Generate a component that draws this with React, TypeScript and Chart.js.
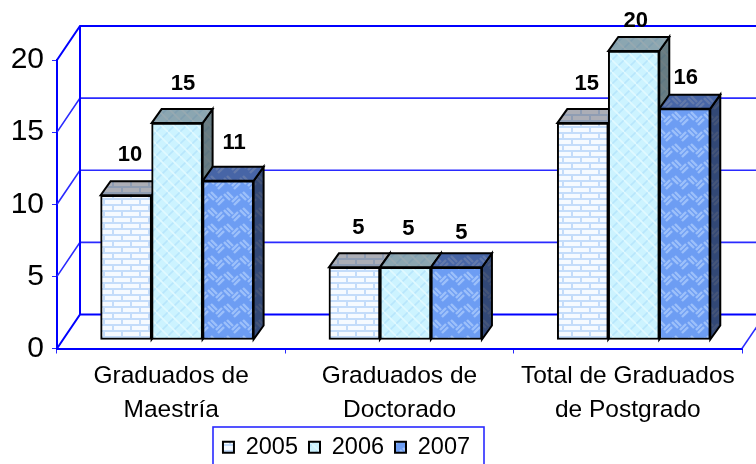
import React, { useEffect, useRef } from "react";
import { Chart, registerables } from "chart.js";

Chart.register(...registerables);

const categories = [
  ["Graduados de", "Maestría"],
  ["Graduados de", "Doctorado"],
  ["Total de Graduados", "de Postgrado"],
];
const seriesNames = ["2005", "2006", "2007"];
const values2005 = [10, 5, 15];
const values2006 = [15, 5, 20];
const values2007 = [11, 5, 16];
const yTicks = [0, 5, 10, 15, 20];

const BLUE = "#0000ff";
const GRID = "#2a2aff";
const FONT = "'Liberation Sans', Arial, sans-serif";
const DEPTH_X = 10;
const DEPTH_Y = 14;
const WALL_X = 23;
const WALL_Y = 34;

// label nudges per series/category relative to the bar's top-centre
const labelNudge = [
  [[4, -40], [4, -39], [4, -39]],
  [[6, -39], [3, -38], [2, -30]],
  [[6, -38], [5, -34], [1, -31]],
];

function tile(w: number, h: number, paint: (c: CanvasRenderingContext2D) => void) {
  const cv = document.createElement("canvas");
  cv.width = w;
  cv.height = h;
  const c = cv.getContext("2d")!;
  paint(c);
  return cv;
}

function brickTile() {
  return tile(18, 12, (c) => {
    c.fillStyle = "#f6faff";
    c.fillRect(0, 0, 18, 12);
    c.fillStyle = "#c4dcfa";
    c.fillRect(0, 0, 18, 2);
    c.fillRect(0, 6, 18, 2);
    c.fillRect(4, 0, 2, 6);
    c.fillRect(13, 6, 2, 6);
  });
}

function plaidTile() {
  return tile(12, 12, (c) => {
    c.fillStyle = "#ccf3ff";
    c.fillRect(0, 0, 12, 12);
    c.strokeStyle = "#b8e6fc";
    c.lineWidth = 1.6;
    for (let i = -12; i <= 24; i += 12) {
      c.beginPath();
      c.moveTo(i, 12);
      c.lineTo(i + 12, 0);
      c.stroke();
    }
    c.strokeStyle = "#e0f9ff";
    c.lineWidth = 1.6;
    for (let i = -12; i <= 24; i += 12) {
      c.beginPath();
      c.moveTo(i, 0);
      c.lineTo(i + 12, 12);
      c.stroke();
    }
  });
}

function weaveTile() {
  return tile(16, 16, (c) => {
    c.fillStyle = "#6d9df3";
    c.fillRect(0, 0, 16, 16);
    c.strokeStyle = "#9dc0fa";
    c.lineWidth = 2.4;
    const seg = (a: number, b: number, d: number, e: number) => {
      c.beginPath();
      c.moveTo(a, b);
      c.lineTo(d, e);
      c.stroke();
    };
    for (const [ox, oy] of [[0, 0], [16, 0], [0, 16], [-16, 0], [0, -16], [16, 16], [-16, -16], [16, -16], [-16, 16]]) {
      seg(ox + 0, oy + 2, ox + 6, oy + 8);
      seg(ox + 3, oy + 0, ox + 9, oy + 6);
      seg(ox + 8, oy + 10, ox + 14, oy + 4);
      seg(ox + 10, oy + 13, ox + 16, oy + 7);
    }
  });
}

const topOverlay = ["rgba(70,70,80,0.42)", "rgba(50,60,70,0.42)", "rgba(20,25,60,0.42)"];
const sideOverlay = ["rgba(40,40,50,0.6)", "rgba(40,50,55,0.62)", "rgba(15,20,40,0.62)"];

export default function App() {
  const ref = useRef<HTMLCanvasElement>(null);

  useEffect(() => {
    const canvas = ref.current!;
    const ctx = canvas.getContext("2d")!;
    const patterns = [brickTile(), plaidTile(), weaveTile()].map(
      (t) => ctx.createPattern(t, "repeat") as CanvasPattern
    );

    const frame = {
      id: "frame",
      afterLayout(chart: any) {
        const lg = chart.legend;
        if (!lg) return;
        lg.left = 0;
        lg.right = 693;
        lg.adjustHitBoxes();
      },
      beforeDatasetsDraw(chart: any) {
        const c = chart.ctx;
        const ys = chart.scales.y;
        const xs = chart.scales.x;
        const left = xs.left;
        const right = xs.right;
        c.save();
        c.beginPath();
        c.rect(0, 0, canvas.width, canvas.height);
        c.clip();
        // back wall and the floor
        yTicks.forEach((v) => {
          const y = ys.getPixelForValue(v);
          const strong = v === 0 || v === 20;
          c.strokeStyle = strong ? BLUE : GRID;
          c.lineWidth = strong ? 2 : 1.6;
          c.beginPath();
          c.moveTo(left, y);
          c.lineTo(left + WALL_X, y - WALL_Y);
          c.lineTo(canvas.width + 5, y - WALL_Y);
          c.stroke();
        });
        c.strokeStyle = BLUE;
        c.lineWidth = 2;
        c.beginPath();
        c.moveTo(left + WALL_X, ys.getPixelForValue(0) - WALL_Y);
        c.lineTo(left + WALL_X, ys.getPixelForValue(20) - WALL_Y);
        c.stroke();
        c.strokeStyle = GRID;
        c.lineWidth = 1.5;
        c.beginPath();
        c.moveTo(right, ys.getPixelForValue(0));
        c.lineTo(right + WALL_X, ys.getPixelForValue(0) - WALL_Y);
        c.stroke();

        // side and top faces, left to right
        const metas = chart.data.datasets.map((_: any, i: number) => chart.getDatasetMeta(i));
        c.lineJoin = "miter";
        for (let cat = 0; cat < categories.length; cat++) {
          metas.forEach((meta: any, s: number) => {
            const b = meta.data[cat];
            const l = b.x - b.width / 2;
            const r = b.x + b.width / 2;
            const t = b.y;
            const bottom = b.base;
            const face = (pts: number[][], overlay: string) => {
              c.beginPath();
              pts.forEach(([px, py], i) => (i ? c.lineTo(px, py) : c.moveTo(px, py)));
              c.closePath();
              c.fillStyle = patterns[s];
              c.fill();
              c.fillStyle = overlay;
              c.fill();
              c.strokeStyle = "#000";
              c.lineWidth = 2;
              c.stroke();
            };
            face(
              [[r, t], [r + DEPTH_X, t - DEPTH_Y], [r + DEPTH_X, bottom - DEPTH_Y], [r, bottom]],
              sideOverlay[s]
            );
            face(
              [[l, t], [l + DEPTH_X, t - DEPTH_Y], [r + DEPTH_X, t - DEPTH_Y], [r, t]],
              topOverlay[s]
            );
          });
        }
        c.restore();
      },
      afterDatasetsDraw(chart: any) {
        const c = chart.ctx;
        c.save();
        c.fillStyle = "#000";
        c.font = `bold 22px ${FONT}`;
        c.textAlign = "center";
        c.textBaseline = "middle";
        chart.data.datasets.forEach((ds: any, s: number) => {
          chart.getDatasetMeta(s).data.forEach((b: any, i: number) => {
            const [nx, ny] = labelNudge[s][i];
            c.fillText(String(ds.data[i].y), b.x + nx, b.y + ny);
          });
        });
        c.restore();
      },
      afterDraw(chart: any) {
        const c = chart.ctx;
        const boxes = chart.legend?.legendHitBoxes;
        if (!boxes || !boxes.length) return;
        const l = Math.min(...boxes.map((h: any) => h.left));
        const r = Math.max(...boxes.map((h: any) => h.left + h.width));
        c.save();
        c.strokeStyle = GRID;
        c.lineWidth = 1.6;
        c.strokeRect(Math.round(l) - 10, 427, Math.round(r - l) + 24, 60);
        c.restore();
      },
    };

    const toPoints = (arr: number[]) => arr.map((y, x) => ({ x, y }));
    const all = [values2005, values2006, values2007];

    const chart = new Chart(canvas, {
      type: "bar",
      data: {
        labels: categories as any,
        datasets: seriesNames.map((name, i) => ({
          label: name,
          data: toPoints(all[i]) as any,
          backgroundColor: patterns[i] as any,
          borderColor: "#000",
          borderWidth: 2,
          borderSkipped: false as any,
          xAxisID: "xBar",
          yAxisID: "yBar",
          barThickness: 51,
          clip: false as any,
        })),
      },
      options: {
        responsive: false,
        animation: false,
        layout: { padding: { left: 0, right: 14, top: 60, bottom: -5 } },
        plugins: {
          title: { display: false },
          tooltip: { enabled: false },
          legend: {
            display: true,
            position: "bottom",
            onClick: () => {},
            labels: {
              boxWidth: 11,
              boxHeight: 11,
              padding: 11,
              color: "#000",
              font: { family: FONT, size: 23.5 },
            },
          },
        },
        scales: {
          x: {
            type: "category",
            position: "bottom",
            offset: true,
            afterFit(s: any) {
              s.height = 76;
            },
            border: { display: true, color: BLUE, width: 2 },
            grid: {
              drawOnChartArea: false,
              drawTicks: true,
              tickLength: 5,
              color: GRID,
              offset: true,
            },
            ticks: {
              color: "#000",
              padding: 6,
              maxRotation: 0,
              autoSkip: false,
              font: { family: FONT, size: 24.5, lineHeight: 1.37 },
            },
          },
          y: {
            type: "linear",
            position: "left",
            min: 0,
            max: 20,
            afterFit(s: any) {
              s.width = 57;
            },
            border: { display: true, color: BLUE, width: 2 },
            grid: { drawOnChartArea: false, tickLength: 5, color: GRID },
            ticks: {
              stepSize: 5,
              color: "#000",
              padding: 8,
              font: { family: FONT, size: 30 },
            },
          },
          xBar: { type: "linear", display: false, min: -0.526, max: 2.474, offset: false },
          yBar: { type: "linear", display: false, min: -0.625, max: 19.375 },
        },
      },
      plugins: [frame as any],
    });
    return () => chart.destroy();
  }, []);

  return (
    <div style={{ position: "absolute", left: 0, top: 0, width: 756, height: 464, overflow: "hidden", background: "#fff" }}>
      <canvas ref={ref} width={756} height={464} style={{ display: "block" }} />
    </div>
  );
}
